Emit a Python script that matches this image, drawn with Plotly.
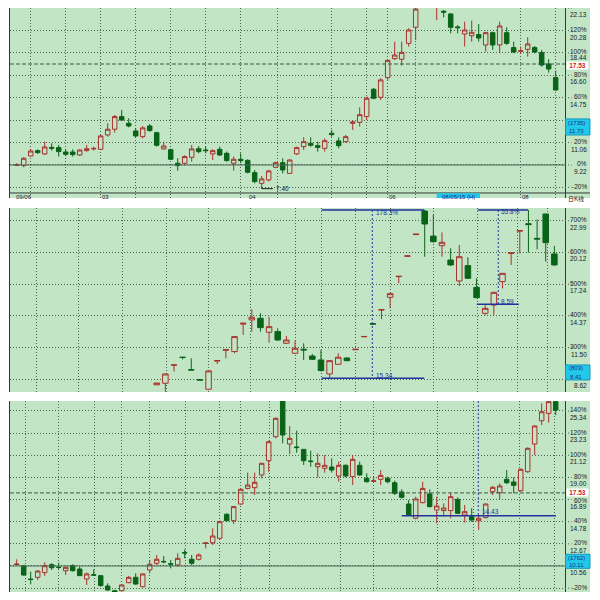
import plotly.graph_objects as go

# ---------------- data ----------------
# Panel 1 (daily candles)
p1_open = [9.20, 9.17, 9.96, 10.40, 10.13, 10.67, 10.65, 10.29, 10.29, 10.04,
           10.40, 10.54, 10.51, 11.69, 12.16, 13.20, 12.65, 12.02, 11.55, 12.43,
           11.88, 10.54, 10.48, 9.36, 9.36, 9.85, 10.56, 10.45, 10.13, 10.51,
           10.18, 9.36, 9.69, 9.60, 8.59, 7.71, 7.99, 9.03, 9.41, 8.53,
           10.13, 10.73, 11.00, 10.81, 10.59, 11.83, 11.20, 11.14, 12.65, 12.73,
           13.20, 15.45, 14.79, 16.41, 17.97, 17.92, 19.23, 20.55, 22.30, 23.60,
           22.40, 21.87, 21.65, 20.58, 20.00, 19.86, 19.95, 19.10, 20.11, 19.10,
           20.11, 18.88, 18.58, 18.74, 18.88, 18.47, 17.53, 16.41]
p1_high = [9.36, 9.85, 10.54, 10.51, 11.14, 11.00, 10.87, 10.51, 10.51, 10.51,
           10.87, 10.73, 11.69, 12.65, 13.34, 13.75, 13.06, 12.24, 12.43, 12.59,
           11.96, 11.14, 10.56, 9.77, 10.02, 10.87, 10.78, 10.73, 10.51, 10.73,
           10.32, 9.91, 10.18, 9.69, 8.81, 8.31, 8.81, 9.49, 9.77, 9.69,
           10.73, 11.50, 11.50, 11.14, 11.41, 12.10, 11.50, 11.69, 12.87, 13.97,
           14.84, 15.56, 16.35, 17.92, 19.37, 19.37, 20.47, 22.40, 24.00, 24.50,
           23.50, 21.98, 21.70, 20.74, 21.02, 21.10, 20.82, 20.19, 20.19, 21.02,
           20.55, 19.37, 18.96, 19.73, 19.01, 18.69, 17.92, 16.98]
p1_low = [9.17, 9.03, 9.91, 10.13, 10.04, 10.40, 9.91, 9.96, 9.91, 9.96,
          10.32, 10.40, 10.45, 11.55, 11.88, 12.87, 12.32, 11.50, 11.41, 11.96,
          10.73, 10.48, 9.63, 8.75, 9.17, 9.49, 10.18, 10.18, 9.63, 9.96,
          9.49, 8.75, 9.36, 8.53, 7.71, 7.40, 7.85, 8.95, 8.53, 8.48,
          10.04, 10.45, 10.73, 10.32, 10.32, 11.55, 10.59, 11.06, 12.10, 12.38,
          12.92, 14.62, 14.57, 16.22, 17.86, 17.40, 18.96, 19.51, 22.20, 22.80,
          21.15, 21.37, 20.06, 20.06, 18.96, 19.37, 19.37, 18.55, 18.69, 18.41,
          19.10, 18.41, 18.36, 18.14, 18.41, 17.31, 16.82, 15.34]
p1_close = [9.22, 9.77, 10.37, 10.24, 10.70, 10.59, 10.32, 10.10, 10.07, 10.45,
            10.56, 10.58, 11.61, 12.16, 13.20, 12.92, 12.43, 11.61, 12.27, 12.05,
            10.84, 10.78, 9.69, 9.17, 9.91, 10.54, 10.32, 10.40, 10.40, 10.04,
            9.58, 9.69, 9.58, 8.62, 7.85, 8.07, 8.73, 9.41, 8.81, 9.63,
            10.65, 11.14, 10.84, 10.67, 11.22, 11.72, 10.81, 11.55, 12.76, 13.36,
            14.71, 14.71, 16.22, 17.83, 18.27, 18.49, 20.33, 22.05, 23.60, 24.20,
            23.20, 21.80, 20.55, 20.52, 20.33, 20.14, 19.67, 20.11, 19.10, 20.66,
            19.23, 18.52, 18.62, 19.18, 18.52, 17.45, 17.12, 15.39]

# Panel 2
p2_open = [8.12, 8.26, 9.90, 10.62, 9.50, 8.58, 7.72, 10.27, 11.25, 11.13,
           13.62, 14.00, 14.15, 12.88, 12.94, 11.88, 10.98, 11.34, 10.73, 10.37,
           9.10, 9.98, 10.55, 11.30, 12.47, 13.66, 14.90, 16.05, 17.92, 19.77,
           21.73, 23.87, 21.60, 20.73, 19.43, 17.53, 18.92, 16.95, 14.60, 15.35,
           17.47, 20.03, 22.05, 22.72, 21.39, 23.60, 19.98]
p2_high = [8.30, 9.12, 9.93, 10.63, 10.52, 8.59, 9.45, 10.33, 11.31, 12.50,
           13.72, 14.96, 14.60, 14.30, 13.24, 12.55, 12.12, 11.88, 10.92, 11.28,
           10.33, 10.98, 10.62, 11.35, 12.51, 13.68, 14.94, 16.47, 17.96, 19.81,
           21.78, 23.96, 23.51, 21.93, 20.49, 20.79, 19.67, 17.77, 15.35, 16.52,
           18.25, 20.08, 22.10, 23.96, 23.11, 23.62, 20.70]
p2_low = [8.10, 7.50, 9.32, 10.43, 9.45, 8.54, 7.66, 10.01, 10.52, 10.98,
          12.64, 12.94, 12.94, 11.94, 12.12, 11.82, 10.92, 10.37, 10.37, 9.32,
          8.71, 9.92, 10.25, 11.29, 12.46, 13.55, 14.06, 15.05, 17.32, 19.76,
          21.72, 19.73, 21.00, 19.73, 18.89, 17.07, 17.71, 15.96, 14.45, 14.45,
          16.86, 18.98, 20.03, 20.12, 20.40, 19.28, 18.92]
p2_close = [8.28, 9.10, 9.92, 10.60, 9.46, 8.55, 9.38, 10.32, 11.30, 12.49,
            13.70, 14.24, 13.30, 13.39, 12.18, 12.18, 11.43, 11.28, 10.43, 9.41,
            10.31, 10.62, 10.31, 11.34, 12.50, 13.62, 14.93, 16.38, 17.95, 19.80,
            21.77, 22.69, 21.09, 21.03, 18.98, 19.73, 17.77, 16.02, 15.05, 16.50,
            18.22, 20.07, 22.09, 22.64, 21.33, 21.00, 18.98]

# Panel 3
p3_open = [10.70, 10.59, 9.32, 9.48, 9.93, 10.69, 10.45, 10.11, 10.59, 10.27,
           9.32, 9.73, 9.64, 8.65, 8.20, 8.21, 8.97, 9.48, 8.59, 10.18,
           10.82, 11.00, 10.78, 10.66, 11.85, 11.20, 11.20, 12.72, 12.78, 13.20,
           15.49, 14.88, 16.47, 17.96, 18.03, 19.24, 20.60, 22.89, 26.30, 22.19,
           21.91, 21.68, 20.58, 20.03, 19.87, 20.00, 19.14, 20.16, 19.08, 20.16,
           18.92, 18.64, 18.82, 18.92, 18.50, 17.62, 16.47, 15.11, 16.60, 17.43,
           15.90, 15.84, 15.84, 16.91, 15.42, 15.26, 14.88, 15.17, 17.65, 17.55,
           18.82, 18.57, 17.74, 19.55, 22.19, 24.41, 25.11, 26.23]
p3_high = [11.20, 10.62, 10.02, 10.18, 10.91, 10.82, 10.88, 10.50, 10.72, 10.50,
           9.93, 10.24, 9.70, 8.91, 8.30, 8.84, 9.61, 9.86, 9.86, 11.13,
           11.61, 11.51, 11.13, 11.77, 12.15, 11.61, 11.77, 12.77, 14.15, 14.88,
           15.58, 16.28, 17.96, 19.46, 19.46, 20.41, 22.51, 24.73, 26.50, 23.91,
           23.46, 21.70, 21.56, 21.30, 21.14, 20.82, 20.51, 20.25, 21.14, 20.51,
           19.40, 19.08, 19.71, 19.08, 18.70, 17.87, 16.85, 17.17, 18.60, 17.87,
           17.17, 16.53, 17.55, 17.11, 16.38, 16.06, 15.42, 16.53, 18.19, 18.44,
           19.71, 19.01, 19.87, 21.87, 24.00, 26.07, 26.50, 26.50]
p3_low = [10.69, 9.64, 8.81, 9.23, 9.61, 10.18, 10.24, 9.70, 10.02, 9.61,
          8.75, 9.64, 8.59, 8.20, 7.70, 8.12, 8.91, 8.75, 8.53, 9.86,
          10.66, 10.82, 10.34, 10.50, 11.29, 10.66, 11.07, 12.24, 12.56, 13.03,
          14.79, 14.56, 16.38, 17.87, 17.33, 18.92, 19.55, 22.73, 22.25, 21.24,
          21.36, 20.19, 20.03, 19.01, 19.46, 19.46, 18.60, 19.01, 18.28, 19.14,
          18.50, 18.50, 18.28, 18.44, 17.33, 16.98, 15.36, 15.01, 16.53, 16.15,
          14.63, 15.43, 15.11, 15.52, 14.69, 14.78, 14.00, 15.11, 17.33, 16.91,
          18.38, 17.49, 17.65, 19.46, 21.14, 24.00, 24.22, 24.95]
p3_close = [10.74, 9.70, 9.27, 10.08, 10.59, 10.40, 10.42, 10.43, 10.11, 9.64,
            9.80, 9.68, 8.69, 8.27, 7.90, 8.75, 9.48, 8.84, 9.80, 10.72,
            11.20, 10.96, 10.74, 11.29, 11.80, 10.82, 11.61, 12.76, 13.42, 14.79,
            14.88, 16.22, 17.87, 18.28, 18.54, 20.35, 22.41, 24.64, 23.05, 22.73,
            21.85, 20.60, 20.52, 20.35, 20.16, 19.71, 20.16, 19.14, 20.73, 19.24,
            18.60, 18.68, 19.20, 18.60, 17.49, 17.11, 15.43, 16.95, 17.96, 16.22,
            16.28, 16.09, 17.17, 15.58, 15.74, 14.94, 15.11, 16.47, 18.06, 18.19,
            18.50, 18.25, 19.78, 21.78, 23.91, 25.27, 26.23, 25.43]

# right-hand scale labels
p1_levels = [22.13, 20.28, 18.44, 16.60, 14.75, 12.91, 11.06, 9.22, 7.38]
p1_pct = ["", "120%", "100%", "80%", "60%", "", "20%", "0%", "-20%"]
p1_price = ["22.13", "20.28", "18.44", "16.60", "14.75", "", "11.06", "9.22", ""]

p2_levels = [22.99, 20.12, 17.24, 14.37, 11.50, 8.62]
p2_pct = ["700%", "600%", "500%", "400%", "300%", ""]
p2_price = ["22.99", "20.12", "17.24", "14.37", "11.50", "8.62"]

p3_levels = [25.34, 23.23, 21.12, 19.00, 16.89, 14.78, 12.67, 10.56, 8.45]
p3_pct = ["140%", "120%", "100%", "80%", "60%", "40%", "20%", "", "-20%"]
p3_price = ["25.34", "23.23", "21.12", "19.00", "16.89", "14.78", "12.67", "10.56", ""]

ref_price = 17.53
p1_zero, p3_zero = 9.22, 10.56
p1_low_label = "7.40"
boxes = [("(1735)", "11.73"), ("(803)", "8.41"), ("(1762)", "10.11")]
p1_dates = ["09/06", "03", "04", "06", "08"]
p2_marks = ["178.3%", "15.34", "55.8%", "8.59"]
p3_marks = ["14.43"]
p2_lines = dict(top=23.96, bottom=8.71, mid=15.42)
p3_line = 15.36

# ---------------- style ----------------
BG = "#c2e5c6"
GRID = "#4c6354"
GDASH = "1px,2px"
UP = "#a8322c"
DOWN = "#0a6418"
BLUE = "#2433a0"
AXIS = "#2e3b33"
TXT = "#1a1a1a"
FONT = "Liberation Sans"

fig = go.Figure()


def add_candles(o, h, l, c, xa, ya):
    fig.add_trace(go.Candlestick(
        x=list(range(len(o))), open=o, high=h, low=l, close=c,
        xaxis=xa, yaxis=ya, whiskerwidth=0, showlegend=False, hoverinfo="skip",
        increasing=dict(line=dict(color=UP, width=1), fillcolor=BG),
        decreasing=dict(line=dict(color=DOWN, width=1), fillcolor=DOWN)))


add_candles(p1_open, p1_high, p1_low, p1_close, "x", "y")
add_candles(p2_open, p2_high, p2_low, p2_close, "x2", "y2")
add_candles(p3_open, p3_high, p3_low, p3_close, "x3", "y3")

# the page adds an 8px body margin, so the plot area sits at page x 10..565, y 8..592
dom1 = [0.6747, 1.0]
dom2 = [0.3425, 0.6575]
dom3 = [0.0, 0.327]

p1_vgrid = [2, 7, 12, 17, 22, 27, 32, 37.3, 45, 50, 53, 57, 72, 77]
p2_vgrid = [-13.96, -9.0, -4.0, 1.08, 6.0, 10.9, 16.0, 19.1, 23.0, 27.0, 32.0, 37.1, 41.7, 45.2]
p3_vgrid = [1.19, 5.94, 11.1, 15.0, 18.9, 24.1, 29.0, 32.0, 36.1, 46.2, 51.0, 60.1, 65.2, 71.9, 76.9]


def xax(rng, tv, anchor):
    return dict(range=rng, anchor=anchor, tickvals=tv, showticklabels=False, ticks="",
                showgrid=True, gridcolor=GRID, griddash=GDASH, gridwidth=1,
                zeroline=False, showline=False, rangeslider=dict(visible=False), fixedrange=True)


def yax(rng, tv, dom, anchor):
    return dict(range=rng, domain=dom, anchor=anchor, tickvals=tv, showticklabels=False, ticks="",
                showgrid=True, gridcolor=GRID, griddash=GDASH, gridwidth=1, zeroline=False,
                showline=True, mirror=True, linecolor=AXIS, linewidth=1, fixedrange=True)


fig.update_layout(
    width=600, height=600, margin=dict(l=2, r=43, t=0, b=16),
    paper_bgcolor="white", plot_bgcolor=BG, showlegend=False,
    boxgap=0.2, boxgroupgap=0.2,
    font=dict(family=FONT, size=7, color=TXT),
    xaxis=xax([-0.957, 78.33], p1_vgrid, "y"),
    yaxis=yax([6.504, 22.14], p1_levels, dom1, "x"),
    xaxis2=xax([-16.97, 47.23], p2_vgrid, "y2"),
    yaxis2=yax([7.47, 24.14], p2_levels, dom2, "x2"),
    xaxis3=xax([-0.957, 78.33], p3_vgrid, "y3"),
    yaxis3=yax([8.08, 26.29], p3_levels, dom3, "x3"),
)

shapes = []
annots = []
XR = 1.0414   # right edge of scale labels (paper)
XC = 1.0207   # centre of the label strip (paper)

# right label strips
for dom in (dom1, dom2, dom3):
    shapes.append(dict(type="rect", xref="paper", yref="paper", x0=1, x1=1.045,
                       y0=dom[0], y1=dom[1], fillcolor=BG, line=dict(width=0), layer="below"))


def scale_labels(levels, pct, price, yref, pct_shift=None, price_shift=None):
    pct_shift = pct_shift or {}
    price_shift = price_shift or {}
    for lv, pc, pr in zip(levels, pct, price):
        shapes.append(dict(type="line", xref="paper", yref=yref, x0=1, x1=1.012, y0=lv, y1=lv,
                           line=dict(color=GRID, width=1, dash=GDASH)))
        if pc:
            annots.append(dict(xref="paper", yref=yref, x=XR, y=lv, text=pc, showarrow=False,
                               xanchor="right", yanchor="middle", yshift=pct_shift.get(pc, 1),
                               borderpad=0, font=dict(size=6.5, color=TXT, family=FONT)))
        if pr:
            annots.append(dict(xref="paper", yref=yref, x=XR, y=lv, text=pr, showarrow=False,
                               xanchor="right", yanchor="middle", yshift=price_shift.get(pr, -6.5),
                               borderpad=0, font=dict(size=6.5, color=TXT, family=FONT)))


# labels beside the 17.53 marker are nudged slightly so they stay legible
scale_labels(p1_levels, p1_pct, p1_price, "y", price_shift={"18.44": -4.5})
scale_labels(p2_levels, p2_pct, p2_price, "y2")
scale_labels(p3_levels, p3_pct, p3_price, "y3", pct_shift={"60%": -1.0})

# cyan boxes with current values
box_pos = [("y", 13.01, 11.69, 12.70, 12.02),
           ("y2", 9.92, 8.56, 9.62, 8.86),
           ("y3", 11.68, 10.34, 11.29, 10.65)]
for (yref, y1, y0, t1y, t2y), (t1, t2) in zip(box_pos, boxes):
    shapes.append(dict(type="rect", xref="paper", yref=yref, x0=1.001, x1=1.045, y0=y0, y1=y1,
                       fillcolor="#22c8e8", line=dict(color="#1598b8", width=1)))
    annots.append(dict(xref="paper", yref=yref, x=XC, y=t1y, text=t1, showarrow=False,
                       xanchor="center", yanchor="middle", borderpad=0,
                       font=dict(size=6, color="#1e2a90", family=FONT)))
    annots.append(dict(xref="paper", yref=yref, x=XC, y=t2y, text=t2, showarrow=False,
                       xanchor="center", yanchor="middle", borderpad=0,
                       font=dict(size=6, color="#1e2a90", family=FONT)))

# reference (17.53) dashed lines and red labels
for yref, ysh in (("y", -1.5), ("y3", 0.5)):
    shapes.append(dict(type="line", xref="paper", yref=yref, x0=0, x1=1, y0=ref_price, y1=ref_price,
                       line=dict(color="#3c5a48", width=1, dash="4px,2px")))
    annots.append(dict(xref="paper", yref=yref, x=XC + 0.002, y=ref_price, text="<b>%.2f</b>" % ref_price,
                       showarrow=False, xanchor="center", yanchor="middle", bgcolor="white",
                       yshift=ysh, borderpad=0, width=21, height=7,
                       font=dict(size=6.5, color="#d02020", family=FONT)))

# zero lines
shapes.append(dict(type="line", xref="paper", yref="y", x0=0, x1=1, y0=p1_zero, y1=p1_zero,
                   line=dict(color="#4c6353", width=1)))
shapes.append(dict(type="line", xref="paper", yref="y3", x0=0, x1=1, y0=p3_zero, y1=p3_zero,
                   line=dict(color="#4c6353", width=1)))

# panel 1 bottom axis line and date labels
shapes.append(dict(type="line", xref="paper", yref="y", x0=0, x1=1.045, y0=6.915, y1=6.915,
                   line=dict(color=AXIS, width=1)))
date_x = [-0.3, 12.0, 33.0, 53.0, 72.0]
for dx, dt in zip(date_x, p1_dates):
    annots.append(dict(xref="x", yref="y", x=dx, y=6.915, text=dt, showarrow=False,
                       xanchor="left", yanchor="top", yshift=-0.5, borderpad=0,
                       font=dict(size=6, color=TXT, family=FONT)))
shapes.append(dict(type="rect", xref="x", yref="y", x0=60.0, x1=66.2, y0=6.51, y1=6.90,
                   fillcolor="#22c8e8", line=dict(width=0)))
annots.append(dict(xref="x", yref="y", x=63.1, y=6.915, text="08/05/15 (H)", showarrow=False,
                   xanchor="center", yanchor="top", yshift=-0.5, borderpad=0,
                   font=dict(size=6, color="#1e2a90", family=FONT)))
annots.append(dict(xref="paper", yref="y", x=1.004, y=6.915, text="日K线", showarrow=False,
                   xanchor="left", yanchor="top", yshift=-0.5, borderpad=0,
                   font=dict(size=6, color=TXT, family="Noto Sans CJK SC")))

# low marker 7.40
shapes.append(dict(type="line", xref="x", yref="y", x0=35, x1=35, y0=7.40, y1=7.27,
                   line=dict(color=TXT, width=1)))
shapes.append(dict(type="line", xref="x", yref="y", x0=35, x1=36.6, y0=7.27, y1=7.27,
                   line=dict(color=TXT, width=1)))
annots.append(dict(xref="x", yref="y", x=36.7, y=7.27, text=p1_low_label, showarrow=False,
                   xanchor="left", yanchor="middle", font=dict(size=6.5, color=TXT, family=FONT)))

# panel 2 measurement lines
bl = dict(color=BLUE, width=1.5)
bd = dict(color=BLUE, width=1, dash="2px,2px")
shapes += [
    dict(type="line", xref="x2", yref="y2", x0=19.09, x1=30.95, y0=p2_lines["top"], y1=p2_lines["top"], line=bl),
    dict(type="line", xref="x2", yref="y2", x0=19.09, x1=30.95, y0=p2_lines["bottom"], y1=p2_lines["bottom"], line=bl),
    dict(type="line", xref="x2", yref="y2", x0=24.94, x1=24.94, y0=p2_lines["top"], y1=p2_lines["bottom"], line=bd),
    dict(type="line", xref="x2", yref="y2", x0=37.14, x1=42.95, y0=p2_lines["top"], y1=p2_lines["top"], line=bl),
    dict(type="line", xref="x2", yref="y2", x0=37.02, x1=41.9, y0=p2_lines["mid"], y1=p2_lines["mid"], line=bl),
    dict(type="line", xref="x2", yref="y2", x0=39.51, x1=39.51, y0=p2_lines["top"], y1=p2_lines["mid"], line=bd),
]
p2_mark_pos = [(25.1, 23.69), (25.1, 8.92), (39.6, 23.78), (39.6, 15.67)]
for (mx, my), mt in zip(p2_mark_pos, p2_marks):
    annots.append(dict(xref="x2", yref="y2", x=mx, y=my, text=mt, showarrow=False,
                       xanchor="left", yanchor="middle", font=dict(size=6.5, color=BLUE, family=FONT)))

# panel 3 measurement line
shapes += [
    dict(type="line", xref="x3", yref="y3", x0=55.0, x1=77.04, y0=p3_line, y1=p3_line, line=bl),
    dict(type="line", xref="x3", yref="y3", x0=65.94, x1=65.94, y0=26.29, y1=p3_line, line=bd),
]
annots.append(dict(xref="x3", yref="y3", x=66.2, y=15.71, text=p3_marks[0], showarrow=False,
                   xanchor="left", yanchor="middle", font=dict(size=6.5, color=BLUE, family=FONT)))

fig.update_layout(shapes=shapes, annotations=annots)
fig.write_html("out.html")
